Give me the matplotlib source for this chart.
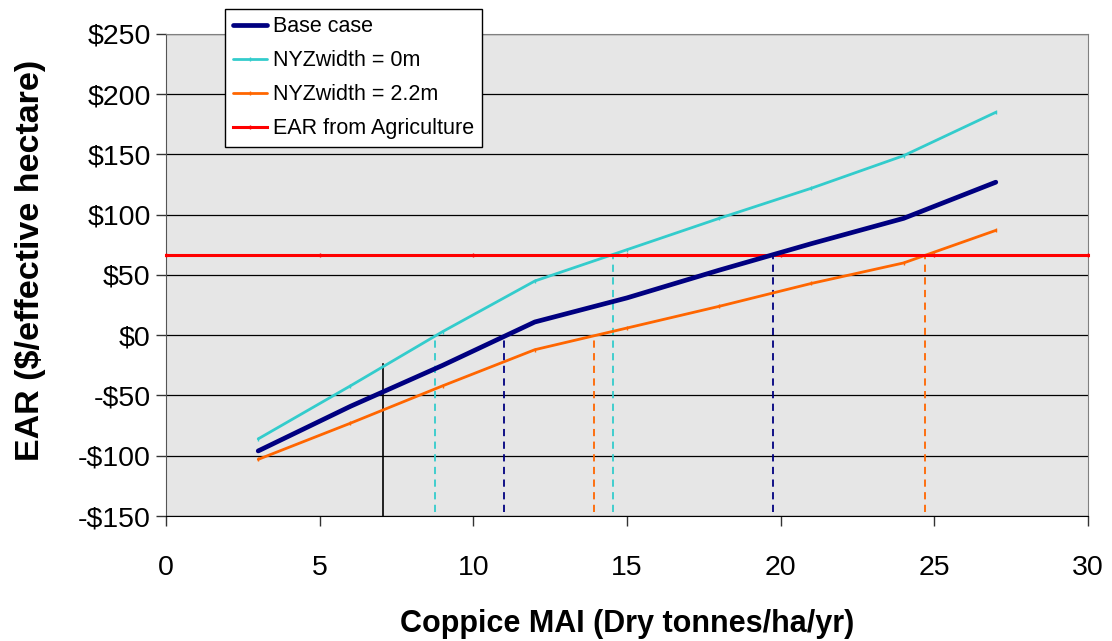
import matplotlib.pyplot as plt
import matplotlib.ticker as mticker

plt.rcParams['font.family'] = ['Liberation Sans', 'DejaVu Sans']

# ------------------ data ------------------
mai = [3, 6, 9, 12, 15, 18, 21, 24, 27]
base_case = [-96, -59, -25, 11, 31, 54, 76, 97, 127]
nyz_0m = [-86, -42, 3, 45, 71, 97, 122, 149, 185]
nyz_22m = [-103, -73, -42, -12, 6, 24, 43, 60, 87]

agri_x = [0, 5, 10, 15, 20, 25, 30]
agri_ear = [67, 67, 67, 67, 67, 67, 67]

# break-even markers: (x, top value, colour key)
breakeven_x = [8.76, 11.0, 13.93, 14.53, 19.76, 24.71]
breakeven_y = [0, 0, 0, 67, 67, 67]
breakeven_series = ['nyz0', 'base', 'nyz22', 'nyz0', 'base', 'nyz22']

ref_x = 7.05
ref_top = -24

y_ticks = [-150, -100, -50, 0, 50, 100, 150, 200, 250]
x_ticks = [0, 5, 10, 15, 20, 25, 30]
# -------------------------------------------------------------

colors = {'base': '#000080', 'nyz0': '#33CCCC', 'nyz22': '#FF6600', 'agri': '#FF0000'}

fig = plt.figure(figsize=(11.12, 6.41), dpi=100)
ax = fig.add_axes([0.1493, 0.195, 0.8291, 0.752])
ax.set_facecolor('#E6E6E6')

ax.set_xlim(0, 30)
ax.set_ylim(-150, 250)
ax.set_yticks(y_ticks)
ax.set_xticks(x_ticks)
ax.yaxis.set_major_formatter(mticker.FuncFormatter(
    lambda v, p: f'-${abs(int(v))}' if v < 0 else f'${int(v)}'))

ax.grid(axis='y', color='#000000', linewidth=0.9)
ax.set_axisbelow(True)

# dashed break-even drops
for bx, by, key in zip(breakeven_x, breakeven_y, breakeven_series):
    ax.plot([bx, bx], [-147, by], color=colors[key], linewidth=1.3,
            linestyle=(0, (4, 3)), zorder=2)
ax.plot([ref_x, ref_x], [-150, ref_top], color='black', linewidth=1.2, zorder=2)

ax.plot(mai, base_case, color=colors['base'], linewidth=3.4, label='Base case',
        solid_capstyle='round', zorder=4)
ax.plot(mai, nyz_0m, color=colors['nyz0'], linewidth=2, label='NYZwidth = 0m',
        marker='|', markersize=3, solid_capstyle='round', zorder=3)
ax.plot(mai, nyz_22m, color=colors['nyz22'], linewidth=2, label='NYZwidth = 2.2m',
        marker='|', markersize=3, solid_capstyle='round', zorder=3)
ax.plot(agri_x, agri_ear, color=colors['agri'], linewidth=2.2,
        label='EAR from Agriculture', marker='|', markersize=3, zorder=3,
        clip_on=False)

ax.tick_params(axis='both', labelsize=20.5, direction='out', length=7, width=1,
               color='#333333')
ax.tick_params(axis='x', pad=21)
ax.tick_params(axis='y', pad=4)

for side in ['top', 'right']:
    ax.spines[side].set_color('#808080')
ax.spines['left'].set_color('#555555')
ax.spines['bottom'].set_color('#000000')

ax.set_xlabel('Coppice MAI (Dry tonnes/ha/yr)', fontsize=22, fontweight='bold',
              labelpad=20)
ax.set_ylabel('EAR ($/effective hectare)', fontsize=24.5, fontweight='bold')
ax.yaxis.set_label_coords(-0.130, 0.531)

leg = ax.legend(loc='upper left', bbox_to_anchor=(0.064, 1.052), fontsize=15.5,
                frameon=True, fancybox=False, handlelength=1.6,
                handletextpad=0.3, labelspacing=0.6, borderpad=0.35,
                borderaxespad=0)
leg.get_frame().set_edgecolor('black')
leg.get_frame().set_linewidth(1)
leg.get_frame().set_facecolor('white')
leg.get_frame().set_alpha(1)

fig.savefig('out.png', dpi=100)
